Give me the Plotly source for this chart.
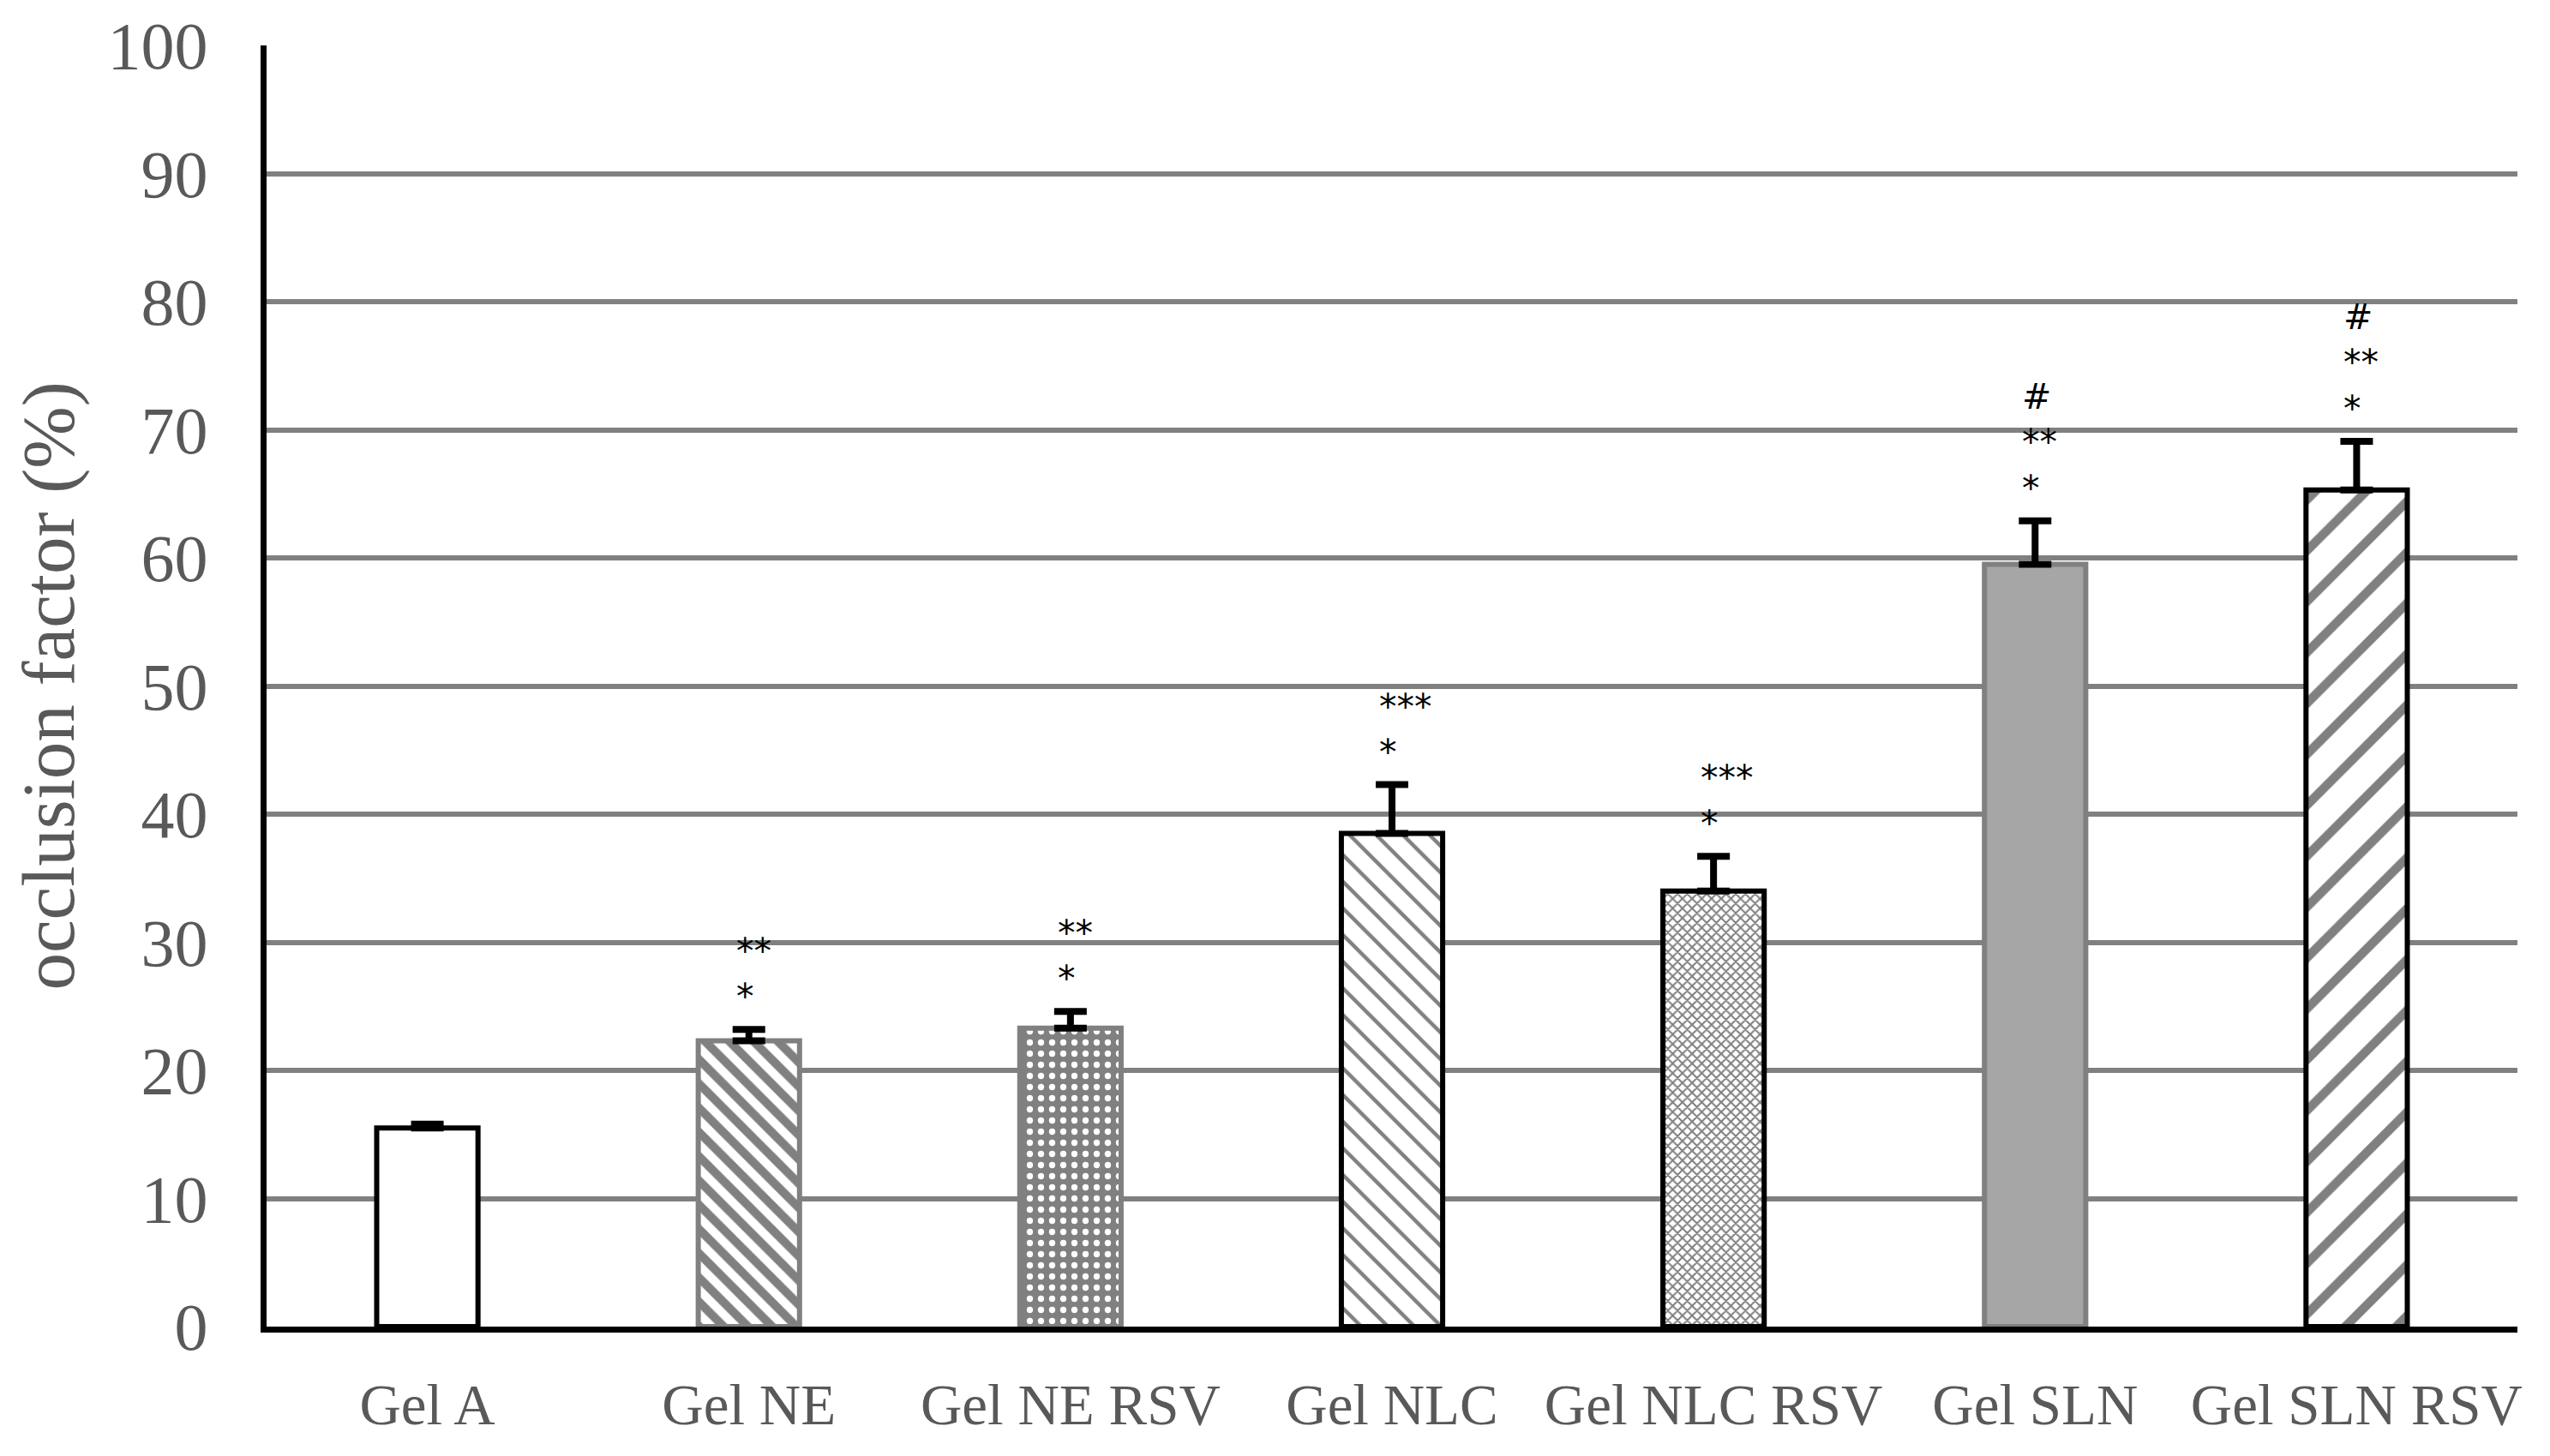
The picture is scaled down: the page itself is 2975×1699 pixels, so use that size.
import plotly.graph_objects as go

# ---- data ----
categories = ["Gel A", "Gel NE", "Gel NE RSV", "Gel NLC", "Gel NLC RSV", "Gel SLN", "Gel SLN RSV"]
values = [15.5, 22.3, 23.3, 38.5, 34.0, 59.5, 65.3]
errors = [0.3, 0.9, 1.3, 3.8, 2.7, 3.4, 3.8]
sig_labels = [[], ["**", "*"], ["**", "*"], ["***", "*"], ["***", "*"], ["#", "**", "*"], ["#", "**", "*"]]
y_ticks = [0, 10, 20, 30, 40, 50, 60, 70, 80, 90, 100]
y_title = "occlusion factor (%)"

# ---- styles ----
GRAY = "#808080"
styles = [
    dict(color="white", shape="", fg="black", bg="white", size=10, sol=0.3, line="black"),
    dict(color="white", shape="\\", fg=GRAY, bg="white", size=20, sol=0.5, line=GRAY),
    dict(color=GRAY, shape=".", fg="white", bg=GRAY, size=13, sol=0.25, line=GRAY),
    dict(color="white", shape="\\", fg=GRAY, bg="white", size=22, sol=0.2, line="black"),
    dict(color="white", shape="x", fg=GRAY, bg="white", size=8, sol=0.45, line="black"),
    dict(color="#a6a6a6", shape="", fg="black", bg="#a6a6a6", size=10, sol=0.3, line=GRAY),
    dict(color="white", shape="/", fg=GRAY, bg="white", size=42, sol=0.25, line="black"),
]

fig = go.Figure()
for cat, v, e, st in zip(categories, values, errors, styles):
    marker = dict(color=st["color"], line=dict(color=st["line"], width=6))
    if st["shape"]:
        marker["pattern"] = dict(shape=st["shape"], fgcolor=st["fg"], bgcolor=st["bg"],
                                 size=st["size"], solidity=st["sol"], fgopacity=1)
    fig.add_trace(go.Bar(
        x=[cat], y=[v], marker=marker,
        error_y=dict(type="data", array=[e], arrayminus=[0], symmetric=False,
                     color="black", thickness=8, width=19),
        showlegend=False,
    ))

# significance marks (one text block per bar)
for cat, v, e, labels in zip(categories, values, errors, sig_labels):
    if not labels:
        continue
    fig.add_annotation(
        x=cat, y=v + e, xref="x", yref="y",
        text="<br>".join(labels), showarrow=False, align="left",
        xanchor="left", yanchor="bottom", xshift=-17, yshift=12,
        font=dict(family="DejaVu Sans", size=41, color="black"),
    )

serif = "Liberation Serif"
fig.update_layout(
    width=2959, height=1683,
    margin=dict(l=303, r=30, t=45, b=143),
    paper_bgcolor="white", plot_bgcolor="white",
    barmode="overlay",
    bargap=0.685,
    font=dict(family=serif, color="#595959"),
)
fig.update_xaxes(
    type="category", showline=True, linecolor="black", linewidth=7,
    showgrid=False, ticks="", ticklabelstandoff=27,
    tickfont=dict(family=serif, size=67, color="#595959"),
    automargin=False,
)
fig.update_yaxes(
    range=[0, 100], tickvals=y_ticks, showgrid=True, gridcolor=GRAY, gridwidth=6,
    zeroline=False, showline=True, linecolor="black", linewidth=7,
    ticks="", ticklabelstandoff=46,
    tickfont=dict(family=serif, size=78, color="#595959"),
    title=dict(text=y_title, font=dict(family=serif, size=87, color="#595959"), standoff=25),
    automargin=False,
)

fig.write_html("out.html")
